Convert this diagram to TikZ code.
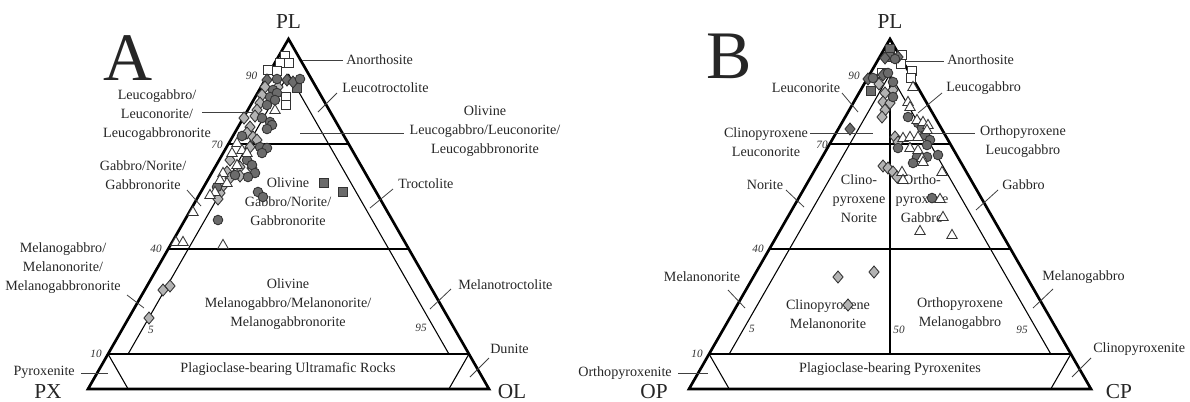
\documentclass[tikz,border=0pt]{standalone}
\usepackage{fontspec}
\setmainfont{Liberation Serif}
\definecolor{mkdark}{HTML}{6B6B6B}
\definecolor{mklight}{HTML}{B3B3B3}
\definecolor{inkgray}{HTML}{262626}
\begin{document}
\begin{tikzpicture}[x=0.75pt,y=-0.75pt,
  rim/.style={line width=2pt,line join=miter},
  fieldline/.style={line width=0.8pt},
  leader/.style={line width=0.6pt,draw=black!75},
  lbl/.style={font=\fontsize{10.6}{14.2}\selectfont,text=inkgray,inner sep=0pt,align=center},
  tickno/.style={font=\fontsize{8.4}{9}\selectfont\itshape,text=black!80,inner sep=0pt},
  vtx/.style={font=\fontsize{16}{16}\selectfont,text=inkgray,inner sep=0pt},
  panel/.style={font=\fontsize{51}{51}\selectfont,text=inkgray,inner sep=0pt},
  mk/.style={draw=black!80,line width=0.65pt}]
\useasboundingbox (0,0) rectangle (1190,401);

% ---------------- Triangle A: PL - PX - OL ----------------
\coordinate (Apl) at (288.5,39);
\coordinate (Apx) at (88,389);
\coordinate (Aol) at (489,389);
\draw[fieldline] (barycentric cs:Apl=.7,Apx=.3) -- (barycentric cs:Apl=.7,Aol=.3);
\draw[fieldline] (barycentric cs:Apl=.4,Apx=.6) -- (barycentric cs:Apl=.4,Aol=.6);
\draw[fieldline] (barycentric cs:Apl=.1,Apx=.9) -- (barycentric cs:Apl=.1,Aol=.9);
\draw[fieldline] (barycentric cs:Apl=.9,Apx=.05,Aol=.05) -- (barycentric cs:Apl=.1,Apx=.85,Aol=.05);
\draw[fieldline] (barycentric cs:Apl=.9,Apx=.05,Aol=.05) -- (barycentric cs:Apl=.1,Apx=.05,Aol=.85);
\draw[fieldline] (barycentric cs:Apl=.1,Apx=.9) -- (barycentric cs:Apx=.9,Aol=.1);
\draw[fieldline] (barycentric cs:Apl=.1,Aol=.9) -- (barycentric cs:Apx=.1,Aol=.9);
\draw[rim] (Apl) -- (Apx) -- (Aol) -- cycle;

\node[vtx] (aPL) at (288.5,22) {PL};
\node[vtx] (aPX) at (48,392) {PX};
\node[vtx] (aOL) at (512,392) {OL};
\node[panel] (aTitle) at (128,58) {A};

\node[tickno] (aT90) at (251.5,76) {90};
\node[tickno] (aT70) at (217,145) {70};
\node[tickno] (aT40) at (156,249) {40};
\node[tickno] (aT10) at (96,354) {10};
\node[tickno] (aT5) at (151,330) {5};
\node[tickno] (aT95) at (421,328) {95};

\node[lbl,anchor=west] (aAno) at (346,60) {Anorthosite};
\node[lbl,anchor=west] (aLtr) at (342,88) {Leucotroctolite};
\node[lbl] (aOlg) at (485,131) {Olivine\\Leucogabbro/Leuconorite/\\Leucogabbronorite};
\node[lbl,anchor=west] (aTro) at (398,184) {Troctolite};
\node[lbl,anchor=west] (aMtr) at (458,285) {Melanotroctolite};
\node[lbl,anchor=west] (aDun) at (490,349) {Dunite};
\node[lbl,anchor=east] (aPyr) at (75,372) {Pyroxenite};
\node[lbl] (aMel) at (63,268) {Melanogabbro/\\Melanonorite/\\Melanogabbronorite};
\node[lbl] (aGab) at (143,175) {Gabbro/Norite/\\Gabbronorite};
\node[lbl] (aLeu) at (157,115) {Leucogabbro/\\Leuconorite/\\Leucogabbronorite};
\node[lbl] (aOgn) at (288,202) {Olivine\\Gabbro/Norite/\\Gabbronorite};
\node[lbl] (aOmg) at (288,304) {Olivine\\Melanogabbro/Melanonorite/\\Melanogabbronorite};
\node[lbl] (aPbu) at (288,369) {Plagioclase-bearing Ultramafic Rocks};

\coordinate (aAno1) at (302,60);  \coordinate (aAno2) at (343,60);
\coordinate (aLtr1) at (318,112); \coordinate (aLtr2) at (337,93);
\coordinate (aOlg1) at (300,133); \coordinate (aOlg2) at (404,133);
\coordinate (aTro1) at (370,208); \coordinate (aTro2) at (393,189);
\coordinate (aMtr1) at (430,309); \coordinate (aMtr2) at (451,289);
\coordinate (aDun1) at (470,377); \coordinate (aDun2) at (489,358);
\coordinate (aPyr1) at (81,373);  \coordinate (aPyr2) at (108,373);
\coordinate (aMel1) at (127,295); \coordinate (aMel2) at (144,308);
\coordinate (aGab1) at (187,190); \coordinate (aGab2) at (201,206);
\coordinate (aLeu1) at (202,112); \coordinate (aLeu2) at (256,112);
\foreach \n in {Ano,Ltr,Olg,Tro,Mtr,Dun,Pyr,Mel,Gab,Leu}
  \draw[leader] (a\n1) -- (a\n2);

% ---------------- Triangle B: PL - OP - CP ----------------
\coordinate (Bpl) at (890,39);
\coordinate (Bop) at (689,389);
\coordinate (Bcp) at (1091,389);
\draw[fieldline] (barycentric cs:Bpl=.7,Bop=.3) -- (barycentric cs:Bpl=.7,Bcp=.3);
\draw[fieldline] (barycentric cs:Bpl=.4,Bop=.6) -- (barycentric cs:Bpl=.4,Bcp=.6);
\draw[fieldline] (barycentric cs:Bpl=.1,Bop=.9) -- (barycentric cs:Bpl=.1,Bcp=.9);
\draw[fieldline] (barycentric cs:Bpl=.9,Bop=.05,Bcp=.05) -- (barycentric cs:Bpl=.1,Bop=.85,Bcp=.05);
\draw[fieldline] (barycentric cs:Bpl=.9,Bop=.05,Bcp=.05) -- (barycentric cs:Bpl=.1,Bop=.05,Bcp=.85);
\draw[fieldline] (barycentric cs:Bpl=.9,Bop=.05,Bcp=.05) -- (barycentric cs:Bpl=.1,Bop=.45,Bcp=.45);
\draw[fieldline] (barycentric cs:Bpl=.1,Bop=.9) -- (barycentric cs:Bop=.9,Bcp=.1);
\draw[fieldline] (barycentric cs:Bpl=.1,Bcp=.9) -- (barycentric cs:Bop=.1,Bcp=.9);
\draw[rim] (Bpl) -- (Bop) -- (Bcp) -- cycle;

\node[vtx] (bPL) at (890,22) {PL};
\node[vtx] (bOP) at (654,392) {OP};
\node[vtx] (bCP) at (1119,392) {CP};
\node[panel] (bTitle) at (729,56) {B};

\node[tickno] (bT90) at (854,76) {90};
\node[tickno] (bT70) at (822,145) {70};
\node[tickno] (bT40) at (758,249) {40};
\node[tickno] (bT10) at (697,354) {10};
\node[tickno] (bT5) at (752,329) {5};
\node[tickno] (bT50) at (899,330) {50};
\node[tickno] (bT95) at (1022,330) {95};

\node[lbl,anchor=west] (bAno) at (947,60) {Anorthosite};
\node[lbl,anchor=west] (bLgb) at (946,88) {Leucogabbro};
\node[lbl] (bOlg) at (1023,142) {Orthopyroxene\\Leucogabbro};
\node[lbl,anchor=west] (bGab) at (1002,185) {Gabbro};
\node[lbl,anchor=west] (bMgb) at (1042,277) {Melanogabbro};
\node[lbl,anchor=west] (bCpx) at (1093,349) {Clinopyroxenite};
\node[lbl,anchor=east] (bOpx) at (672,373) {Orthopyroxenite};
\node[lbl] (bMno) at (702,277) {Melanonorite};
\node[lbl] (bNor) at (765,185) {Norite};
\node[lbl] (bCln) at (766,142) {Clinopyroxene\\Leuconorite};
\node[lbl] (bLno) at (806,88) {Leuconorite};
\node[lbl] (bCpn) at (859,199) {Clino-\\pyroxene\\Norite};
\node[lbl] (bOpg) at (922,199) {Ortho-\\pyroxene\\Gabbro};
\node[lbl] (bCmn) at (828,314) {Clinopyroxene\\Melanonorite};
\node[lbl] (bOmg) at (960,314) {Orthopyroxene\\Melanogabbro};
\node[lbl] (bPbp) at (890,369) {Plagioclase-bearing Pyroxenites};

\coordinate (bAno1) at (906,61);  \coordinate (bAno2) at (944,61);
\coordinate (bLgb1) at (918,113); \coordinate (bLgb2) at (942,93);
\coordinate (bOlg1) at (930,133); \coordinate (bOlg2) at (975,133);
\coordinate (bGab1) at (976,210); \coordinate (bGab2) at (998,190);
\coordinate (bMgb1) at (1033,308); \coordinate (bMgb2) at (1053,289);
\coordinate (bCpx1) at (1072,377); \coordinate (bCpx2) at (1091,358);
\coordinate (bOpx1) at (678,373); \coordinate (bOpx2) at (708,373);
\coordinate (bMno1) at (728,290); \coordinate (bMno2) at (745,308);
\coordinate (bNor1) at (786,190); \coordinate (bNor2) at (804,207);
\coordinate (bCln1) at (810,133); \coordinate (bCln2) at (873,133);
\coordinate (bLno1) at (842,93);  \coordinate (bLno2) at (858,112);
\foreach \n in {Ano,Lgb,Olg,Gab,Mgb,Cpx,Opx,Mno,Nor,Cln,Lno}
  \draw[leader] (b\n1) -- (b\n2);

% ---------------- sample symbols ----------------
% open squares
\foreach \x/\y in {285/56,280/63,289/63,268/70,277/71,286/97,286/105,
                   902/55,901/64,912/71,911/78,882/73}
  \filldraw[mk,fill=white] ([shift={(-3.6pt,-3.6pt)}]\x,\y) rectangle ++(7.2pt,7.2pt);
% grey squares
\foreach \x/\y in {297/88,324/183,343/192,890/49,889/57,871/91}
  \filldraw[mk,fill=mkdark] ([shift={(-3.6pt,-3.6pt)}]\x,\y) rectangle ++(7.2pt,7.2pt);
% dark diamonds
\foreach \x/\y in {267/80,287/80,293/82,868/79,885/58,898/57,883/75,850/129}
  \filldraw[mk,fill=mkdark] ([yshift=4.5pt]\x,\y) -- ++(3.8pt,-4.5pt) -- ++(-3.8pt,-4.5pt) -- ++(-3.8pt,4.5pt) -- cycle;
% light diamonds
\foreach \x/\y in {265/87,278/87,262/95,260/103,257/110,255/116,250/127,247/133,253/137,
                   257/140,250/147,230/160,240/167,252/168,227/172,230/178,222/187,
                   220/193,218/199,244/118,240/176,163/290,170/286,149/318,
                   885/93,893/90,883/102,890/103,885/110,882/117,895/137,898/142,
                   883/166,888/168,893/172,897/177,879/84,838/277,874/272,848/305}
  \filldraw[mk,fill=mklight] ([yshift=4.5pt]\x,\y) -- ++(3.8pt,-4.5pt) -- ++(-3.8pt,-4.5pt) -- ++(-3.8pt,4.5pt) -- cycle;
% circles
\foreach \x/\y in {277/79,300/79,273/90,270/97,277/93,267/105,275/100,262/118,270/122,
                   272/125,267/129,242/136,260/147,267/148,262/153,247/160,252/165,
                   255/173,235/175,248/177,217/187,258/192,263/197,218/220,
                   873/78,888/73,893/82,895/59,893/97,908/117,918/123,922/128,925/135,
                   930/140,898/148,927/145,917/157,927/157,913/163,938/155,932/198}
  \filldraw[mk,fill=mkdark] (\x,\y) circle (3.6pt);
% open triangles
\foreach \x/\y in {275/110,237/143,242/150,247/153,232/153,237/165,223/173,220/180,
                   215/192,210/195,227/183,193/212,176/242,183/242,223/245,
                   913/87,908/102,910/107,917/120,923/122,928/125,927/130,903/138,
                   910/137,918/137,910/148,918/150,922/158,923/162,902/172,903/180,
                   942/172,940/199,943/217,920/231,952/235}
  \filldraw[mk,fill=white] ([yshift=4.2pt]\x,\y) -- ++(3.9pt,-6.8pt) -- ++(-7.8pt,0pt) -- cycle;
\end{tikzpicture}
\end{document}
